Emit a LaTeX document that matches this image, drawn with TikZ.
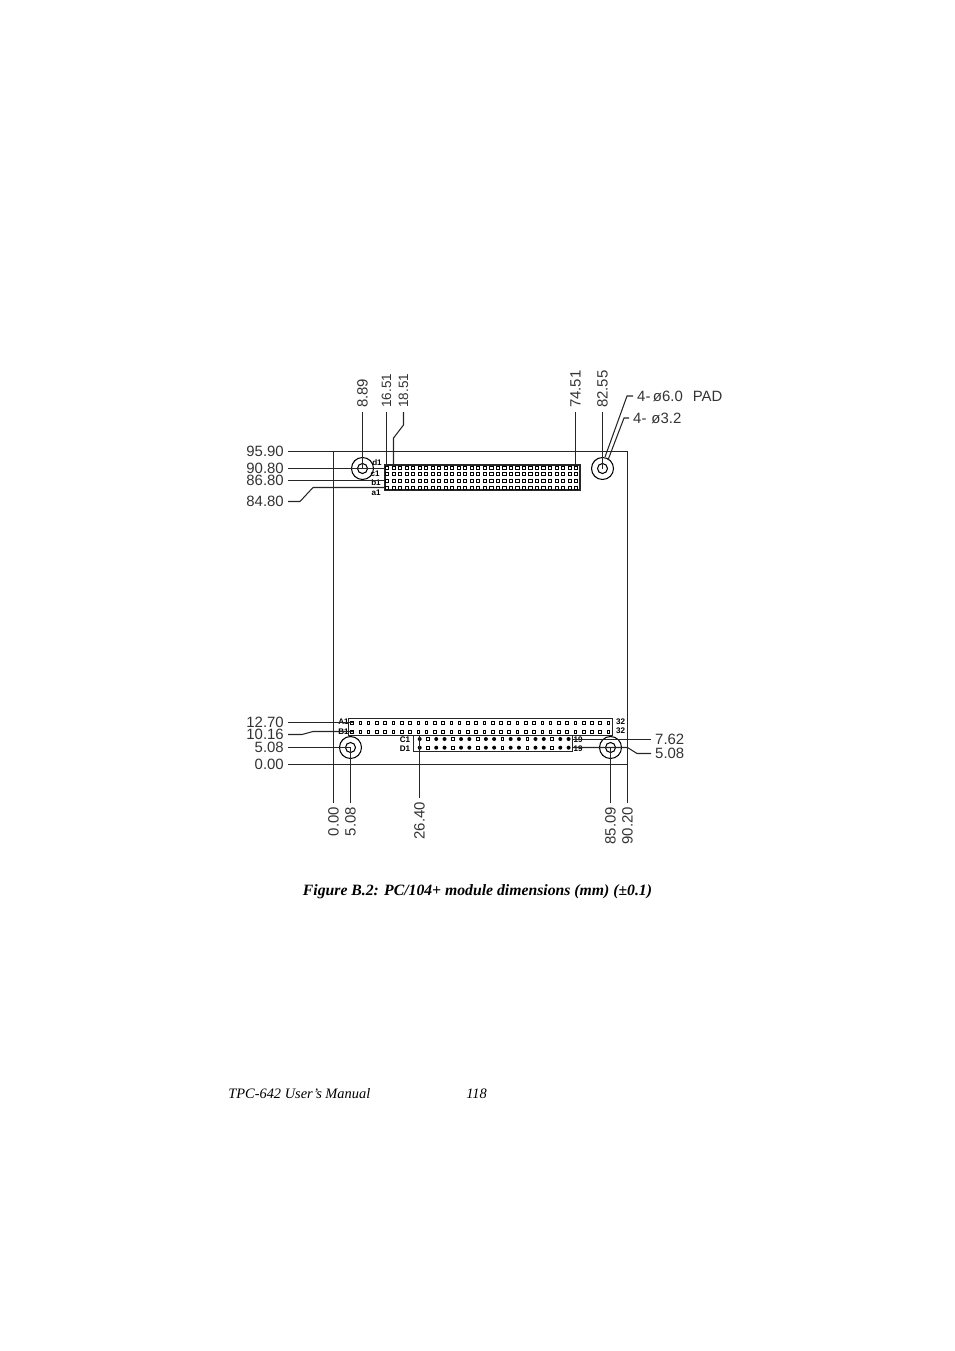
\documentclass[tikz,border=0pt]{standalone}
\usepackage{fontspec}
\setmainfont{Liberation Serif}
\newfontfamily\cadfont{Liberation Sans}
\begin{document}
\begin{tikzpicture}[
    x=0.02cm, y=-0.02cm,
    edge/.style={line width=0.6pt, black!85},
    dimtext/.style={font=\cadfont\fontsize{8.5}{10}\selectfont, inner xsep=2.2pt, inner ysep=0pt, black!80},
    dimnarrow/.style={dimtext, font=\cadfont\fontsize{7.7}{10}\selectfont},
    pintext/.style={font=\cadfont\bfseries\fontsize{4.6}{5}\selectfont, inner sep=0pt},
    holepad/.style={circle, draw, line width=0.6pt, minimum size=0.44cm, inner sep=0pt},
    holebore/.style={circle, draw, line width=0.6pt, minimum size=0.2cm, inner sep=0pt},
    pinopen/.style={draw, line width=0.45pt, fill=white},
    pinsolid/.style={fill=black}
]
\useasboundingbox (0,0) rectangle (954,1351);

% --- MACRO: DRAW HOLE ---
\newcommand{\drawhole}[2]{
    \node[holepad] (#1) at #2 {};
    \node[holebore] (#1bore) at #2 {};
}

% --- BOARD ---
\coordinate (boardNW) at (333.5,451.5);
\coordinate (boardNE) at (627.5,451.5);
\coordinate (boardSW) at (333.5,764.5);
\coordinate (boardSE) at (627.5,764.5);

% --- HOLES ---
\drawhole{holeTL}{(362.5,468.5)}
\drawhole{holeTR}{(602.5,468.5)}
\drawhole{holeBL}{(350.5,747.5)}
\drawhole{holeBR}{(610.5,747.5)}

% --- TOP CONNECTOR ---
\draw[edge, line width=0.8pt] (385,465) rectangle (580,490);
\foreach \col in {0,...,29}
    \foreach \row in {467.5,474.2,481,487.7}
        \draw[pinopen] (387+\col*6.52-1.6,\row-1.6) rectangle ++(3.2,3.2);
\coordinate (pinD) at (385,468.5);
\coordinate (pinB) at (385,480.5);
\coordinate (pinA) at (385,487.5);
\coordinate (colFirst) at (386.5,466);
\coordinate (colSecond) at (393.5,466);
\coordinate (colLast) at (575.5,465);

% --- BOTTOM CONNECTORS ---
\draw[edge] (348.5,718.5) rectangle (612.5,735.5);
\foreach \col in {0,...,31}
    \foreach \row in {722.7,731.7}
        \draw[pinopen, line width=0.4pt] (352+\col*8.27-1.3,\row-1.3) rectangle ++(2.6,2.6);
\draw[edge] (413.5,735.5) rectangle (572.5,751.5);
\foreach \col in {0,...,18}
    \foreach \row in {739,747.7} {
        \pgfmathparse{int(mod(\col,3))}
        \ifnum\pgfmathresult=1
            \draw[pinopen, line width=0.4pt] (419.7+\col*8.27-1.3,\row-1.3) rectangle ++(2.6,2.6);
        \else
            \fill[pinsolid] (419.7+\col*8.27,\row) circle (2);
        \fi
    }
\coordinate (pinAA) at (353,722.5);
\coordinate (pinBB) at (353,731.5);
\coordinate (pinCC) at (572.5,739.5);
\coordinate (pinDD) at (572.5,747.5);
\coordinate (colCC) at (419.5,735.5);

% --- PIN LABELS ---
\node[pintext] (rowd) at (377,463) {d1};
\node[pintext] (rowc) at (375,474) {c1};
\node[pintext] (rowb) at (376,483) {b1};
\node[pintext] (rowa) at (376,493) {a1};
\node[pintext] (rowAA) at (343.5,722) {A1};
\node[pintext] (rowBB) at (343.5,732) {B1};
\node[pintext] (rowCC) at (405,740) {C1};
\node[pintext] (rowDD) at (405,748.7) {D1};
\node[pintext] (endAA) at (620.7,722) {32};
\node[pintext] (endBB) at (620.7,731) {32};
\node[pintext] (endCC) at (578,740) {19};
\node[pintext] (endDD) at (578,749) {19};

% --- LEFT LABELS ---
\node[dimtext, anchor=east] (dimA) at (288,451.5) {95.90};
\node[dimtext, anchor=east] (dimB) at (288,468.5) {90.80};
\node[dimtext, anchor=east] (dimC) at (288,480.5) {86.80};
\node[dimtext, anchor=east] (dimD) at (288,501.5) {84.80};
\node[dimtext, anchor=east] (dimE) at (288,722.5) {12.70};
\node[dimtext, anchor=east] (dimF) at (288,734.5) {10.16};
\node[dimtext, anchor=east] (dimG) at (288,747.5) {5.08};
\node[dimtext, anchor=east] (dimH) at (288,764.5) {0.00};

% --- TOP LABELS ---
\node[dimtext, rotate=90, anchor=west] (topA) at (362.5,412) {8.89};
\node[dimnarrow, rotate=90, anchor=west] (topB) at (386.5,412) {16.51};
\node[dimnarrow, rotate=90, anchor=west] (topC) at (403.5,412) {18.51};
\node[dimtext, rotate=90, anchor=west] (topD) at (575.5,412) {74.51};
\node[dimtext, rotate=90, anchor=west] (topE) at (602.5,412) {82.55};
\node[dimtext, anchor=west] (padA) at (633,396) {4-\,ø6.0\,\,\,\,PAD};
\node[dimtext, anchor=west] (padB) at (629,418) {4-\,\,ø3.2};

% --- BOTTOM LABELS ---
\node[dimtext, rotate=90, anchor=east] (botA) at (333.5,803) {0.00};
\node[dimtext, rotate=90, anchor=east] (botB) at (350.5,803) {5.08};
\node[dimtext, rotate=90, anchor=east] (botC) at (419.5,798) {26.40};
\node[dimtext, rotate=90, anchor=east] (botD) at (610.5,803) {85.09};
\node[dimtext, rotate=90, anchor=east] (botE) at (627.5,803) {90.20};

% --- RIGHT LABELS ---
\node[dimtext, anchor=west] (sideA) at (651,739.5) {7.62};
\node[dimtext, anchor=west] (sideB) at (651,753.5) {5.08};

% --- LEADERS ---
\begin{scope}[edge]
    \draw (dimA.east) -- (boardNW) -- (boardNE) -- (boardSE);
    \draw (dimH.east) -- (boardSW) -- (boardSE);
    \draw (boardNW) -- (boardSW) -- (botA.east);
    \draw (boardSE) -- (botE.east);
    \draw (dimB.east) -- (pinD);
    \draw (dimC.east) -- (pinB);
    \draw (dimD.east) -- ++(12,0) -- ++(13,-14) -- (pinA);
    \draw (dimE.east) -- (pinAA);
    \draw (dimF.east) -- ++(14,0) -- ++(11,-3) -- (pinBB);
    \draw (dimG.east) -- (holeBL.center);
    \draw (topA.west) -- (holeTL.center);
    \draw (topB.west) -- (colFirst);
    \draw (topC.west) -- ++(0,13) -- ++(-10,13) -- (colSecond);
    \draw (topD.west) -- (colLast);
    \draw (topE.west) -- (holeTR.center);
    \draw (padA.west) -- ++(-6,0) -- (605,457);
    \draw (padB.west) -- ++(-5,0) -- (608,460);
    \draw (botB.east) -- (holeBL.center);
    \draw (botC.east) -- (colCC);
    \draw (botD.east) -- (holeBR.center);
    \draw (sideA.west) -- (pinCC);
    \draw (sideB.west) -- ++(-14,0) -- (627.5,747.5) -- (pinDD);
\end{scope}

% --- CAPTION ---
\node[font=\bfseries\itshape\fontsize{8.95}{10}\selectfont, inner sep=0pt] (caption) at (477.5,892)
    {Figure B.2: PC/104+ module dimensions (mm) (±0.1)};
\node[font=\itshape\fontsize{8.2}{10}\selectfont, inner sep=0pt, anchor=west] (footname) at (228,1094)
    {TPC-642 User’s Manual};
\node[font=\itshape\fontsize{8.2}{10}\selectfont, inner sep=0pt, anchor=west] (footpage) at (466,1094) {118};

\end{tikzpicture}
\end{document}
